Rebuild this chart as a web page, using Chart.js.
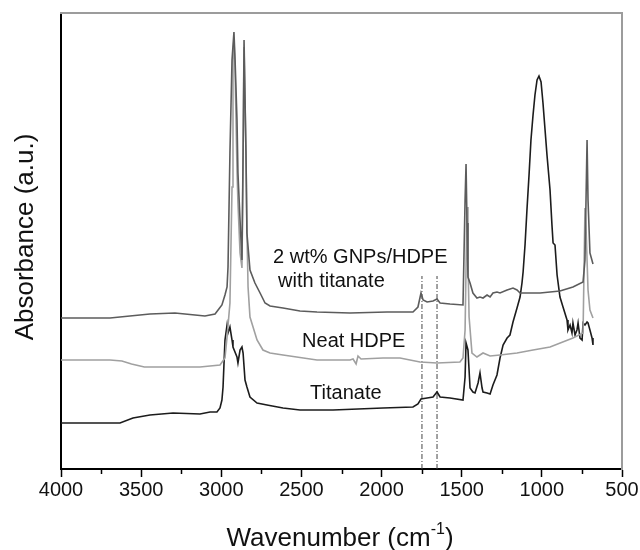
<!DOCTYPE html>
<html>
<head>
<meta charset="utf-8">
<script src="https://cdn.jsdelivr.net/npm/chart.js@4.4.1/dist/chart.umd.min.js"></script>
<style>
    html, body { margin: 0; padding: 0; background: #fff; }
    #wrap { width: 640px; height: 550px; }
</style>
</head>
<body>
<div id="wrap"><canvas id="ftirChart" width="640" height="550"></canvas></div>
<script>
// FTIR spectra, wavenumber (cm-1) vs absorbance (a.u., offset)
var hybridWn = [4000, 3694, 3570, 3445, 3289, 3164, 3102, 3039, 3020, 2996, 2977, 2964, 2958, 2946, 2933, 2921, 2914, 2902, 2896, 2883, 2871, 2864, 2858, 2846, 2840, 2821, 2790, 2758, 2727, 2696, 2615, 2509, 2403, 2197, 1966, 1804, 1773, 1754, 1741, 1716, 1679, 1654, 1635, 1573, 1492, 1479, 1473, 1467, 1461, 1448, 1430, 1405, 1386, 1367, 1342, 1323, 1305, 1280, 1261, 1217, 1180, 1155, 1136, 1117, 1011, 887, 806, 743, 731, 718, 712, 700, 681];
var hybridAbs = [1.51, 1.51, 1.53, 1.55, 1.56, 1.54, 1.53, 1.55, 1.59, 1.64, 1.74, 1.82, 2.02, 3.16, 4.09, 4.37, 4.09, 3.49, 2.96, 2.49, 2.09, 3.16, 4.29, 3.16, 2.36, 1.99, 1.86, 1.76, 1.66, 1.63, 1.61, 1.58, 1.57, 1.56, 1.57, 1.57, 1.62, 1.76, 1.69, 1.67, 1.68, 1.70, 1.66, 1.65, 1.64, 2.69, 3.05, 2.46, 1.92, 1.86, 1.76, 1.71, 1.72, 1.71, 1.74, 1.72, 1.76, 1.77, 1.76, 1.79, 1.81, 1.79, 1.76, 1.76, 1.76, 1.78, 1.82, 1.87, 2.09, 3.29, 2.69, 2.16, 2.05];

var neatWn = [4000, 3694, 3620, 3560, 3480, 3133, 3008, 2977, 2964, 2946, 2933, 2927, 2921, 2914, 2902, 2896, 2883, 2871, 2864, 2858, 2846, 2840, 2833, 2821, 2777, 2740, 2696, 2615, 2403, 2197, 2178, 2159, 2147, 2128, 1991, 1885, 1760, 1654, 1511, 1492, 1479, 1467, 1461, 1454, 1436, 1405, 1367, 1323, 1261, 1155, 1055, 949, 806, 743, 731, 724, 712, 700, 681];
var neatAbs = [1.09, 1.09, 1.08, 1.05, 1.02, 1.02, 1.04, 1.11, 1.32, 1.66, 2.82, 4.09, 4.31, 3.99, 2.99, 2.66, 2.16, 2.01, 3.09, 4.22, 3.16, 2.39, 1.82, 1.52, 1.29, 1.19, 1.16, 1.14, 1.09, 1.09, 1.10, 1.05, 1.13, 1.10, 1.11, 1.11, 1.07, 1.06, 1.07, 1.11, 1.39, 2.62, 2.09, 1.52, 1.16, 1.12, 1.16, 1.13, 1.14, 1.16, 1.19, 1.22, 1.31, 1.36, 2.61, 2.39, 1.79, 1.59, 1.51];

var titanateWn = [4000, 3632, 3551, 3445, 3301, 3133, 3070, 3027, 3008, 2996, 2989, 2977, 2964, 2958, 2946, 2933, 2927, 2902, 2896, 2883, 2871, 2864, 2852, 2840, 2821, 2777, 2715, 2615, 2509, 2303, 1991, 1804, 1773, 1754, 1716, 1679, 1654, 1635, 1573, 1492, 1479, 1473, 1461, 1448, 1430, 1417, 1398, 1386, 1373, 1367, 1342, 1323, 1305, 1280, 1261, 1242, 1217, 1199, 1180, 1155, 1136, 1124, 1117, 1105, 1093, 1080, 1068, 1055, 1043, 1030, 1018, 1005, 993, 980, 968, 949, 937, 930, 918, 905, 887, 868, 843, 837, 824, 812, 806, 793, 781, 774, 762, 749, 743, 731, 718, 712, 700, 687, 681];
var titanateAbs = [0.46, 0.46, 0.51, 0.54, 0.56, 0.55, 0.57, 0.57, 0.61, 0.69, 0.82, 1.29, 1.44, 1.36, 1.42, 1.29, 1.22, 1.12, 1.06, 1.19, 1.22, 1.16, 0.89, 0.82, 0.72, 0.66, 0.64, 0.61, 0.59, 0.59, 0.61, 0.62, 0.65, 0.70, 0.71, 0.72, 0.77, 0.72, 0.71, 0.69, 0.92, 1.26, 1.19, 0.81, 0.77, 0.76, 0.86, 0.96, 0.81, 0.77, 0.76, 0.75, 0.84, 0.94, 1.11, 1.24, 1.31, 1.34, 1.47, 1.61, 1.72, 1.86, 1.97, 2.24, 2.59, 2.94, 3.29, 3.54, 3.74, 3.89, 3.93, 3.87, 3.66, 3.39, 3.14, 2.79, 2.44, 2.26, 2.24, 1.94, 1.72, 1.62, 1.49, 1.39, 1.44, 1.36, 1.46, 1.34, 1.39, 1.46, 1.31, 1.29, 1.46, 1.44, 1.47, 1.46, 1.39, 1.31, 1.24];

// dash-dot guide lines (C=O bands)
var markerWn = [1748, 1654];
var markerTop = 1.93;

var xTicks = [4000, 3500, 3000, 2500, 2000, 1500, 1000, 500];

var FONT = "'Liberation Sans', Arial, sans-serif";

function toPoints(wn, abs) {
    var pts = [];
    for (var i = 0; i < wn.length; i++) {
        pts.push({x: wn[i], y: abs[i]});
    }
    return pts;
}

function lineSet(pts, color, width, dash) {
    return {
        data: pts,
        borderColor: color,
        borderWidth: width,
        borderDash: dash || [],
        pointRadius: 0,
        tension: 0,
        fill: false
    };
}

var datasets = [
    lineSet(toPoints(hybridWn, hybridAbs), '#5c5c5c', 1.6),
    lineSet(toPoints(neatWn, neatAbs), '#a0a0a0', 1.6),
    lineSet(toPoints(titanateWn, titanateAbs), '#1c1c1c', 1.6)
];
markerWn.forEach(function (w) {
    datasets.push(lineSet([{x: w, y: 0}, {x: w, y: markerTop}], '#444', 1, [5, 2, 1, 2]));
});

// frame-only axis (top and right, grey, no ticks)
function frameAxis(pos, extra) {
    var a = {
        position: pos,
        display: true,
        ticks: {display: false},
        grid: {display: false, drawTicks: false},
        border: {display: true, color: '#9c9c9c', width: 2},
        afterFit: function (scale) {
            if (pos === 'top') { scale.height = 0; } else { scale.width = 0; }
        }
    };
    for (var k in extra) { a[k] = extra[k]; }
    return a;
}

// text labels next to the curves, minor ticks, axis titles
var decorPlugin = {
    id: 'decor',
    afterDraw: function (chart) {
        var ctx = chart.ctx;
        var xs = chart.scales.x, ys = chart.scales.y;
        var area = chart.chartArea;

        ctx.save();
        ctx.setLineDash([]);

        // minor ticks
        ctx.strokeStyle = '#000';
        ctx.lineWidth = 1.5;
        for (var v = 750; v < 4000; v += 500) {
            var px = Math.round(xs.getPixelForValue(v)) + 0.5;
            ctx.beginPath();
            ctx.moveTo(px, area.bottom);
            ctx.lineTo(px, area.bottom + 5);
            ctx.stroke();
        }

        // curve labels
        var notes = [
            {text: '2 wt% GNPs/HDPE', wn: 2677, abs: 2.12},
            {text: 'with titanate', wn: 2646, abs: 1.88},
            {text: 'Neat HDPE', wn: 2496, abs: 1.28},
            {text: 'Titanate', wn: 2446, abs: 0.76}
        ];
        ctx.fillStyle = '#111';
        ctx.font = '20px ' + FONT;
        ctx.textAlign = 'left';
        ctx.textBaseline = 'middle';
        notes.forEach(function (n) {
            ctx.fillText(n.text, xs.getPixelForValue(n.wn), ys.getPixelForValue(n.abs));
        });

        // x axis title with superscript
        ctx.textBaseline = 'alphabetic';
        var t1 = 'Wavenumber (cm';
        ctx.font = '16px ' + FONT;
        var supW = ctx.measureText('-1').width;
        ctx.font = '26px ' + FONT;
        var w1 = ctx.measureText(t1).width;
        var w3 = ctx.measureText(')').width;
        var startX = 340 - (w1 + supW + w3) / 2;
        ctx.fillText(t1, startX, 546);
        ctx.font = '16px ' + FONT;
        ctx.fillText('-1', startX + w1, 534);
        ctx.font = '26px ' + FONT;
        ctx.fillText(')', startX + w1 + supW, 546);

        // y axis title
        ctx.translate(33, 237);
        ctx.rotate(-Math.PI / 2);
        ctx.textAlign = 'center';
        ctx.fillText('Absorbance (a.u.)', 0, 0);
        ctx.restore();
    }
};

var ctx = document.getElementById('ftirChart').getContext('2d');
new Chart(ctx, {
    type: 'line',
    data: {datasets: datasets},
    plugins: [decorPlugin],
    options: {
        responsive: false,
        animation: false,
        layout: {padding: {left: 0, right: 18, top: 13, bottom: 0}},
        plugins: {
            legend: {display: false},
            tooltip: {enabled: false}
        },
        scales: {
            x: {
                type: 'linear',
                reverse: true,
                min: 500,
                max: 4000,
                afterBuildTicks: function (scale) {
                    scale.ticks = xTicks.map(function (v) { return {value: v}; });
                },
                ticks: {
                    color: '#111',
                    font: {size: 20, family: FONT},
                    padding: 1,
                    maxRotation: 0,
                    autoSkip: false,
                    callback: function (value) { return String(value); }
                },
                grid: {
                    drawOnChartArea: false,
                    drawTicks: true,
                    tickLength: 8,
                    tickWidth: 1.5,
                    tickColor: '#000'
                },
                border: {display: true, color: '#000', width: 2},
                afterFit: function (scale) { scale.height = 81; }
            },
            y: {
                min: 0,
                max: 4.56,
                ticks: {display: false},
                grid: {display: false, drawTicks: false},
                border: {display: true, color: '#000', width: 2},
                afterFit: function (scale) { scale.width = 61; }
            },
            xTop: frameAxis('top', {type: 'linear', axis: 'x', min: 500, max: 4000}),
            yRight: frameAxis('right', {type: 'linear', axis: 'y', min: 0, max: 4.56})
        }
    }
});
</script>
</body>
</html>
